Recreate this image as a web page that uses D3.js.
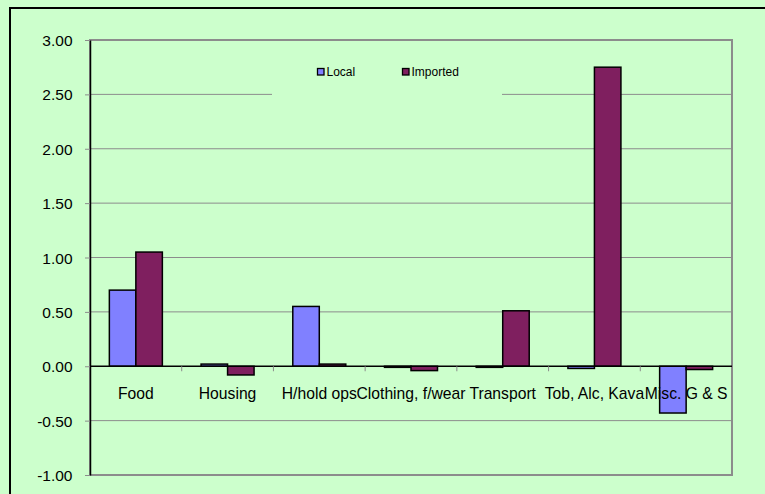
<!DOCTYPE html>
<html><head><meta charset="utf-8">
<script src="https://cdn.jsdelivr.net/npm/d3@7"></script>
<style>body{margin:0;background:#fff;}svg{display:block;}</style>
</head><body>
<svg id="c" width="765" height="494"></svg>
<script>
const categories = ["Food","Housing","H/hold ops","Clothing, f/wear","Transport","Tob, Alc, Kava","Misc. G & S"];
const localValues = [0.70, 0.02, 0.55, -0.01, -0.01, -0.02, -0.43];
const importedValues = [1.05, -0.08, 0.02, -0.04, 0.51, 2.75, -0.03];
const seriesNames = ["Local","Imported"];
const yTicks = [-1.00,-0.50,0.00,0.50,1.00,1.50,2.00,2.50,3.00];

const colors = ["#8080FF","#7F1F5F"];
const bg = "#CCFFCC";
const font = "Liberation Sans, Arial, sans-serif";
const svg = d3.select("#c");
const W = 765, H = 494;
const L = 90, R = 732, T = 40, B = 475;

svg.append("rect").attr("x",0).attr("y",0).attr("width",W).attr("height",H).attr("fill",bg);
svg.append("rect").attr("x",10).attr("y",8).attr("width",W+10).attr("height",H+10)
  .attr("fill",bg).attr("stroke","#000").attr("stroke-width",2);

const x = d3.scaleBand().domain(categories).range([L,R]).paddingInner(0).paddingOuter(0);
const y = d3.scaleLinear().domain([-1,3]).range([B,T]);
const barW = 26.5;

// gridlines
svg.append("g").selectAll("line").data(yTicks.filter(d=>d!==0 && d!==3 && d!==-1)).join("line")
  .attr("x1",L).attr("x2",R).attr("y1",d=>y(d)).attr("y2",d=>y(d))
  .attr("stroke","#8c8c8c").attr("stroke-width",1);

// plot border
svg.append("rect").attr("x",L).attr("y",T).attr("width",R-L).attr("height",B-T)
  .attr("fill","none").attr("stroke","#8c8c8c").attr("stroke-width",2);

// legend box (covers gridline)
svg.append("rect").attr("x",272).attr("y",52).attr("width",230).attr("height",45).attr("fill",bg);
const leg = svg.append("g");
const legX = [317.5,402.5];
seriesNames.forEach((n,i)=>{
  leg.append("rect").attr("x",legX[i]).attr("y",68.5).attr("width",6.5).attr("height",6.5)
    .attr("fill",colors[i]).attr("stroke","#000").attr("stroke-width",1.3);
  leg.append("text").attr("x",legX[i]+9).attr("y",76).text(n)
    .attr("font-family",font).attr("font-size",12).attr("fill","#000");
});

// bars
const data = [localValues, importedValues];
data.forEach((vals,s)=>{
  svg.append("g").selectAll("rect").data(vals).join("rect")
    .attr("x",(d,i)=>x(categories[i]) + x.bandwidth()/2 - barW + s*barW)
    .attr("y",d=>y(Math.max(0,d)))
    .attr("width",barW)
    .attr("height",d=>Math.max(1,Math.abs(y(d)-y(0))))
    .attr("fill",colors[s]).attr("stroke","#000").attr("stroke-width",1.5);
});

// y axis
const yAxis = svg.append("g").attr("transform",`translate(${L},0)`)
  .call(d3.axisLeft(y).tickValues(yTicks).tickFormat(d3.format(".2f")).tickSize(5).tickSizeOuter(0));
yAxis.select(".domain").attr("stroke","#000").attr("stroke-width",1.5);
yAxis.selectAll(".tick line").attr("stroke","#8c8c8c");
yAxis.selectAll("text").attr("font-family",font).attr("font-size",15.5).attr("fill","#000")
  .attr("x",-17.5).attr("dy","0.36em").text(d=>d3.format(".2f")(d).replace("−","-"));

// zero line with category ticks
svg.append("line").attr("x1",L).attr("x2",R).attr("y1",y(0)).attr("y2",y(0)).attr("stroke","#000").attr("stroke-width",1.3);
svg.append("g").selectAll("line").data(categories.slice(1)).join("line")
  .attr("x1",d=>x(d)).attr("x2",d=>x(d)).attr("y1",y(0)).attr("y2",y(0)+5)
  .attr("stroke","#8c8c8c");

// category labels
svg.append("g").selectAll("text").data(categories).join("text")
  .attr("x",d=>x(d)+x.bandwidth()/2).attr("y",y(0)+33)
  .attr("text-anchor","middle").text(d=>d)
  .attr("font-family",font).attr("font-size",15.7).attr("fill","#000");
</script>
</body></html>
